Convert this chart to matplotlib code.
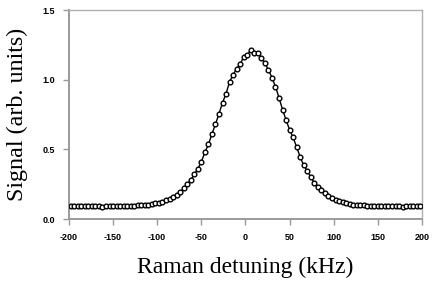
import matplotlib
matplotlib.use("Agg")
import matplotlib.pyplot as plt

# detuning (kHz) and signal (arb. units)
detuning = [-198, -194, -190, -186, -182, -178, -174, -170, -166, -162,
            -158, -154, -150, -146, -142, -138, -134, -130, -126, -122,
            -118, -114, -110, -106, -102, -98, -94, -90, -86, -82,
            -78, -74, -70, -66, -62, -58, -54, -50, -46, -42,
            -38, -34, -30, -26, -22, -18, -14, -10, -6, -2,
            2, 6, 10, 14, 18, 22, 26, 30, 34, 38,
            42, 46, 50, 54, 58, 62, 66, 70, 74, 78,
            82, 86, 90, 94, 98, 102, 106, 110, 114, 118,
            122, 126, 130, 134, 138, 142, 146, 150, 154, 158,
            162, 166, 170, 174, 178, 182, 186, 190, 194, 198]
signal = [0.091, 0.092, 0.091, 0.090, 0.091, 0.091, 0.090, 0.091, 0.090, 0.087,
          0.090, 0.091, 0.092, 0.091, 0.093, 0.092, 0.094, 0.093, 0.095, 0.097,
          0.099, 0.101, 0.104, 0.108, 0.112, 0.117, 0.125, 0.134, 0.143, 0.156,
          0.173, 0.192, 0.220, 0.250, 0.280, 0.320, 0.360, 0.410, 0.478, 0.535,
          0.610, 0.680, 0.755, 0.835, 0.900, 0.985, 1.035, 1.080, 1.110, 1.165,
          1.175, 1.215, 1.190, 1.192, 1.155, 1.118, 1.070, 1.015, 0.950, 0.870,
          0.785, 0.710, 0.640, 0.585, 0.515, 0.445, 0.385, 0.345, 0.300, 0.260,
          0.228, 0.206, 0.185, 0.165, 0.150, 0.139, 0.130, 0.120, 0.113, 0.108,
          0.104, 0.101, 0.099, 0.097, 0.095, 0.095, 0.094, 0.093, 0.093, 0.092,
          0.093, 0.092, 0.094, 0.090, 0.089, 0.091, 0.090, 0.091, 0.092, 0.093]

xticks = [-200, -150, -100, -50, 0, 50, 100, 150, 200]
yticks = [0.0, 0.5, 1.0, 1.5]

fig = plt.figure(figsize=(4.36, 2.82), dpi=100)
ax = fig.add_axes([0.158, 0.2234, 0.810, 0.7411])

ax.plot(detuning, signal, color='black', lw=1.0, zorder=2)
ax.plot(detuning, signal, 'o', ms=3.4, mfc='white', mec='black', mew=1.0,
        zorder=3)

ax.set_xlim(-200, 200)
ax.set_ylim(0, 1.5)
ax.set_xticks(xticks)
ax.set_yticks(yticks)
ax.set_xticklabels([str(t) for t in xticks])
ax.set_yticklabels(['%.1f' % t for t in yticks])

for s in ['left', 'bottom']:
    ax.spines[s].set_color('#9a9a9a')
    ax.spines[s].set_linewidth(1.4)
for s in ['top', 'right']:
    ax.spines[s].set_color('#b0b0b0')
    ax.spines[s].set_linewidth(1.0)

ax.tick_params(direction='out', length=4, width=1.0, color='#9a9a9a',
               labelsize=6.5, pad=6)
for lab in ax.get_xticklabels() + ax.get_yticklabels():
    lab.set_fontweight('bold')
    lab.set_family('Liberation Sans')

ax.set_xlabel("Raman detuning (kHz)", family='Liberation Serif',
              fontsize=17, labelpad=11)
ax.set_ylabel("Signal (arb. units)", family='Liberation Serif',
              fontsize=17.3, labelpad=10)

fig.savefig("out.png", dpi=100)
